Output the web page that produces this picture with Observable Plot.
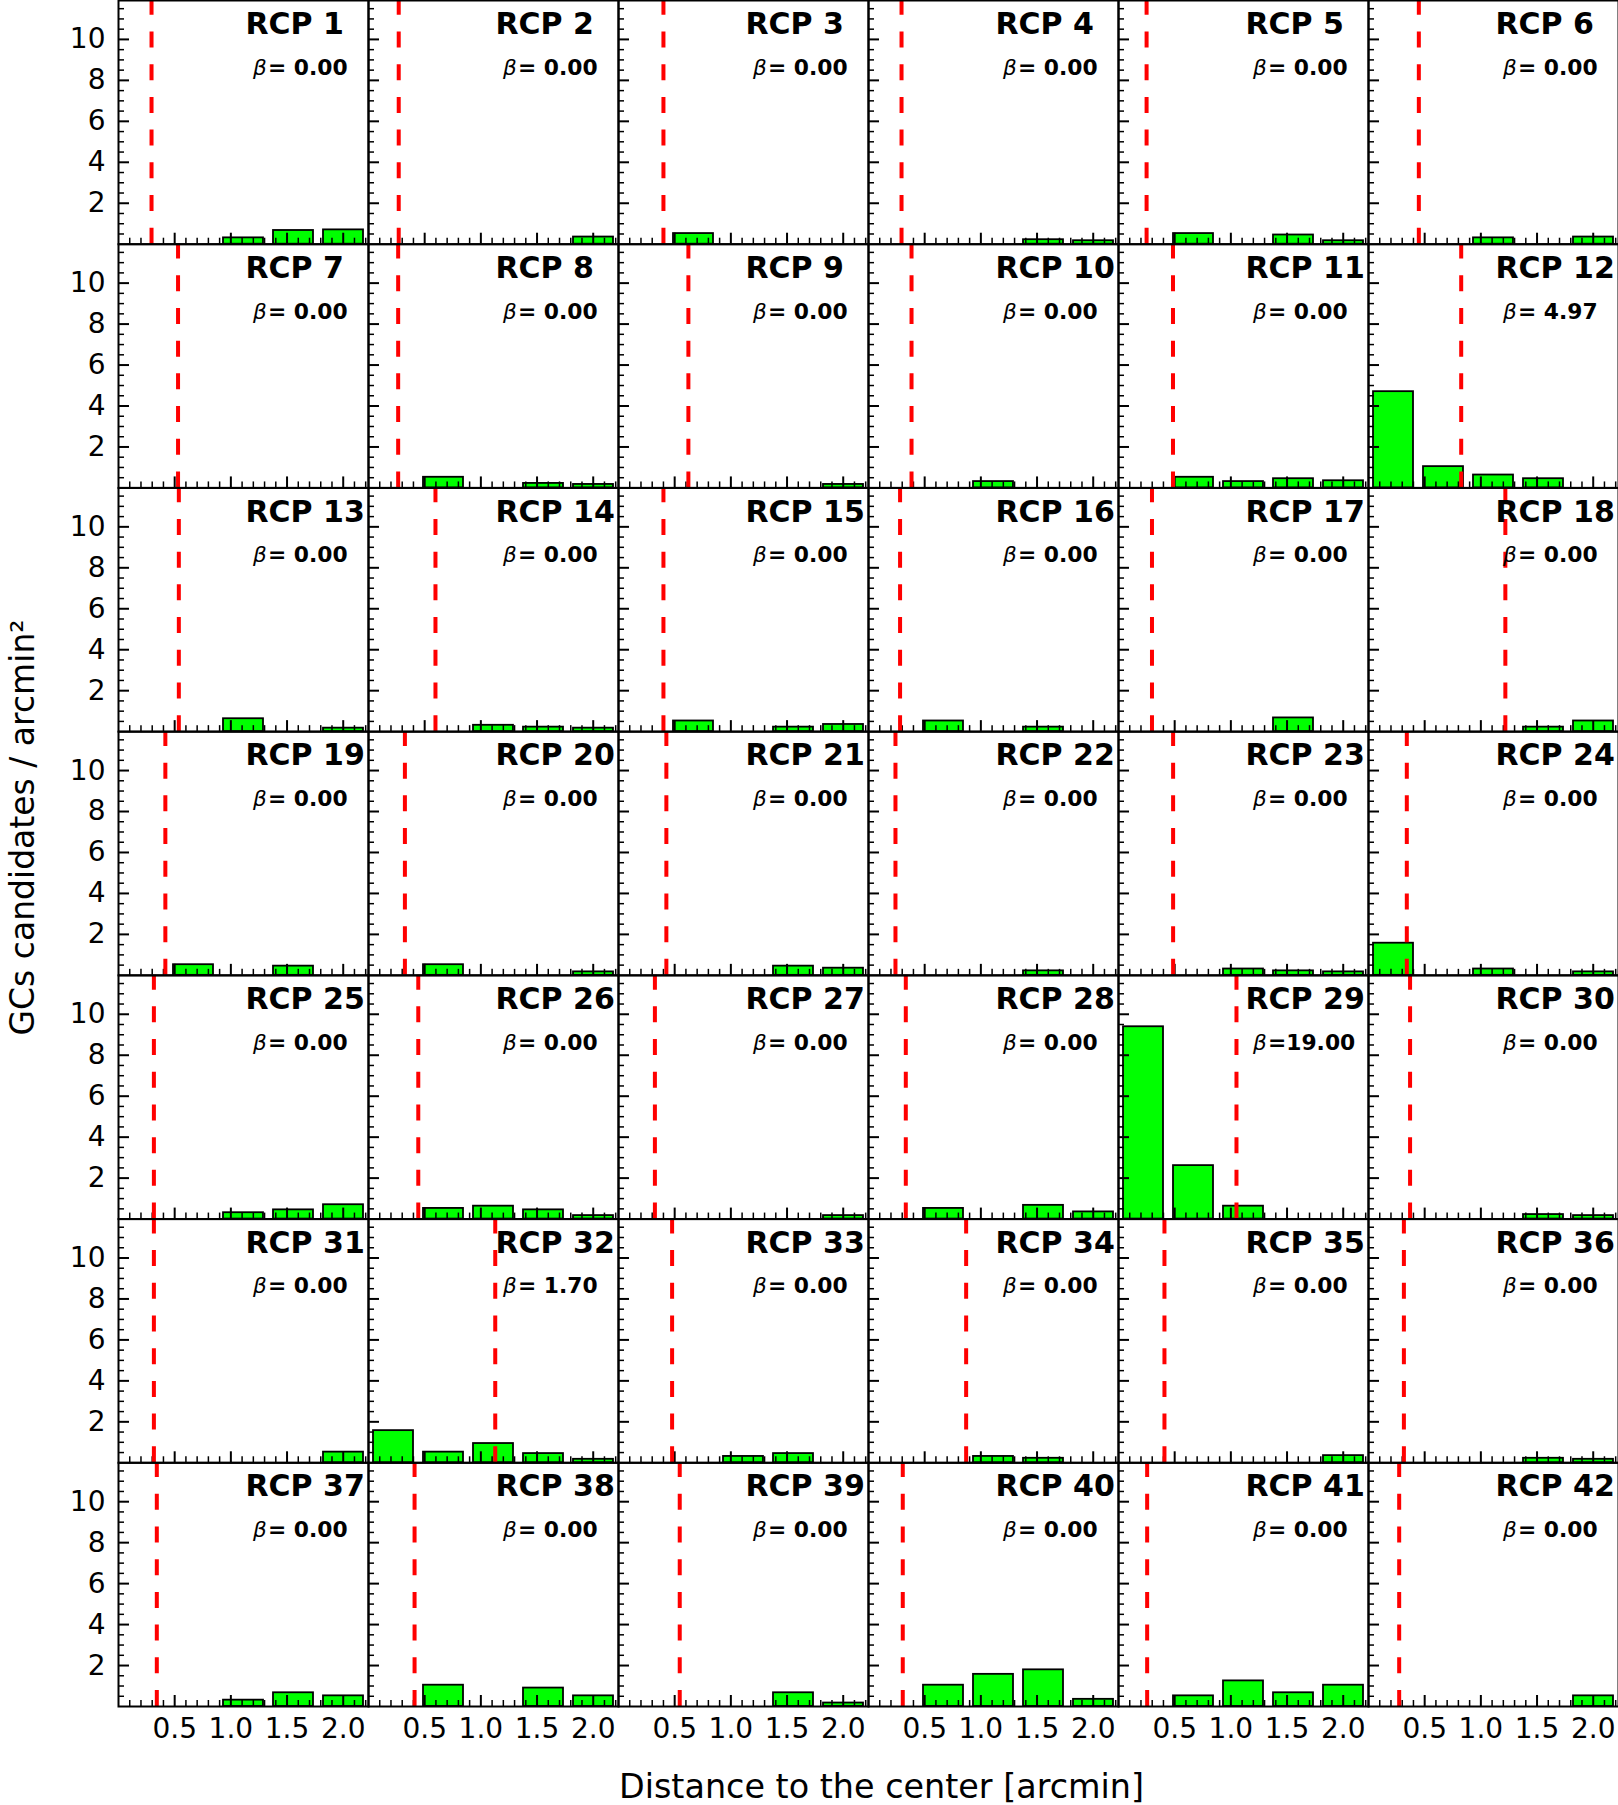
<!DOCTYPE html>
<html>
<head>
<meta charset="utf-8">
<script src="https://cdn.jsdelivr.net/npm/d3@7"></script>
<script src="https://cdn.jsdelivr.net/npm/@observablehq/plot@0.6"></script>
<style>
  html, body { margin: 0; padding: 0; background: #ffffff; }
  #chart svg { display: block; }
</style>
</head>
<body>
<div id="chart"></div>
<script>
// ---------------- data ----------------
const panelLabels = [
  "RCP 1","RCP 2","RCP 3","RCP 4","RCP 5","RCP 6",
  "RCP 7","RCP 8","RCP 9","RCP 10","RCP 11","RCP 12",
  "RCP 13","RCP 14","RCP 15","RCP 16","RCP 17","RCP 18",
  "RCP 19","RCP 20","RCP 21","RCP 22","RCP 23","RCP 24",
  "RCP 25","RCP 26","RCP 27","RCP 28","RCP 29","RCP 30",
  "RCP 31","RCP 32","RCP 33","RCP 34","RCP 35","RCP 36",
  "RCP 37","RCP 38","RCP 39","RCP 40","RCP 41","RCP 42"
];

// radial bin edges [arcmin]
const binEdges = [0, 0.445, 0.89, 1.335, 1.78, 2.225];

// GC candidate surface density per bin (GCs / arcmin^2), one row per panel
const density = [
  [0, 0, 0.31, 0.67, 0.70],
  [0, 0, 0, 0, 0.35],
  [0, 0.52, 0, 0, 0],
  [0, 0, 0, 0.22, 0.17],
  [0, 0.52, 0, 0.45, 0.17],
  [0, 0, 0.31, 0, 0.35],
  [0, 0, 0, 0, 0],
  [0, 0.52, 0, 0.22, 0.17],
  [0, 0, 0, 0, 0.17],
  [0, 0, 0.31, 0, 0],
  [0, 0.52, 0.31, 0.45, 0.35],
  [4.70, 1.04, 0.63, 0.45, 0],
  [0, 0, 0.63, 0, 0.17],
  [0, 0, 0.31, 0.22, 0.17],
  [0, 0.52, 0, 0.22, 0.35],
  [0, 0.52, 0, 0.22, 0],
  [0, 0, 0, 0.67, 0],
  [0, 0, 0, 0.22, 0.52],
  [0, 0.52, 0, 0.45, 0],
  [0, 0.52, 0, 0, 0.17],
  [0, 0, 0, 0.45, 0.35],
  [0, 0, 0, 0.22, 0],
  [0, 0, 0.31, 0.22, 0.17],
  [1.57, 0, 0.31, 0, 0.17],
  [0, 0, 0.31, 0.45, 0.70],
  [0, 0.52, 0.63, 0.45, 0.17],
  [0, 0, 0, 0, 0.17],
  [0, 0.52, 0, 0.67, 0.35],
  [9.39, 2.61, 0.63, 0, 0],
  [0, 0, 0, 0.22, 0.17],
  [0, 0, 0, 0, 0.52],
  [1.57, 0.52, 0.94, 0.45, 0.17],
  [0, 0, 0.31, 0.45, 0],
  [0, 0, 0.31, 0.22, 0],
  [0, 0, 0, 0, 0.35],
  [0, 0, 0, 0.22, 0.17],
  [0, 0, 0.31, 0.67, 0.52],
  [0, 1.04, 0, 0.90, 0.52],
  [0, 0, 0, 0.67, 0.17],
  [0, 1.04, 1.57, 1.79, 0.35],
  [0, 0.52, 1.25, 0.67, 1.04],
  [0, 0, 0, 0, 0.52]
];

// red dashed line position per panel [arcmin]
const cutRadius = [
  0.294, 0.269, 0.400, 0.294, 0.250, 0.448,
  0.530, 0.264, 0.622, 0.383, 0.485, 0.825,
  0.537, 0.596, 0.400, 0.281, 0.298, 1.218,
  0.417, 0.324, 0.426, 0.240, 0.486, 0.341,
  0.315, 0.443, 0.324, 0.332, 1.050, 0.370,
  0.315, 1.128, 0.477, 0.869, 0.409, 0.315,
  0.341, 0.410, 0.545, 0.305, 0.255, 0.273
];

// beta value per panel
const betaValues = [
  0, 0, 0, 0, 0, 0,
  0, 0, 0, 0, 0, 4.97,
  0, 0, 0, 0, 0, 0,
  0, 0, 0, 0, 0, 0,
  0, 0, 0, 0, 19.00, 0,
  0, 1.70, 0, 0, 0, 0,
  0, 0, 0, 0, 0, 0
];

const xTickValues = [0.5, 1.0, 1.5, 2.0];
const yTickValues = [2, 4, 6, 8, 10];
const xMinorTicks = [0.1,0.2,0.3,0.4,0.6,0.7,0.8,0.9,1.1,1.2,1.3,1.4,1.6,1.7,1.8,1.9,2.1,2.2];
const yMinorTicks = [0.5,1,1.5,2.5,3,3.5,4.5,5,5.5,6.5,7,7.5,8.5,9,9.5,10.5,11,11.5];

const xTitle = "Distance to the center [arcmin]";
const yTitle = "GCs candidates / arcmin²";

// ---------------- tables built from the arrays ----------------
const NCOL = 6;
const panels = panelLabels.map((name, i) => ({
  name, col: i % NCOL, row: Math.floor(i / NCOL), r: cutRadius[i], beta: betaValues[i]
}));
const bars = [];
density.forEach((vals, i) => vals.forEach((v, b) => {
  if (v > 0) bars.push({col: i % NCOL, row: Math.floor(i / NCOL), x1: binEdges[b], x2: binEdges[b + 1], v});
}));

// ---------------- layout ----------------
const WIDTH = 1618, HEIGHT = 1805;
const mL = 118, mR = 0, mT = 0, mB = 99;
const FW = (WIDTH - mL - mR) / 6;
const FH = (HEIGHT - mT - mB) / 7;
const FONT = "DejaVu Sans";

const chart = Plot.plot({
  width: WIDTH, height: HEIGHT,
  marginLeft: mL, marginRight: mR, marginTop: mT, marginBottom: mB,
  style: {fontFamily: FONT, fontSize: "28px", color: "black", background: "white"},
  fx: {domain: d3.range(6), padding: 0, axis: null, round: false},
  fy: {domain: d3.range(7), padding: 0, axis: null, round: false},
  x: {domain: [0, 2.225]},
  y: {domain: [0, 11.9]},
  marks: [
    Plot.rect(bars, {
      fx: "col", fy: "row", x1: "x1", x2: "x2", y1: 0, y2: "v",
      insetLeft: 5, insetRight: 5,
      fill: "#00ff00", stroke: "black", strokeWidth: 1.8
    }),
    // inward ticks (bottom and left of each panel)
    Plot.ruleX(xMinorTicks, {insetTop: FH - 6, stroke: "black", strokeWidth: 1.5}),
    Plot.ruleX(xTickValues, {insetTop: FH - 11, stroke: "black", strokeWidth: 2}),
    Plot.ruleY(yMinorTicks, {insetRight: FW - 6, stroke: "black", strokeWidth: 1.5}),
    Plot.ruleY(yTickValues, {insetRight: FW - 11, stroke: "black", strokeWidth: 2}),
    // red dashed line
    Plot.ruleX(panels, {
      fx: "col", fy: "row", x: "r", y1: 0, y2: 11.9,
      stroke: "#ff0000", strokeWidth: 4, strokeDasharray: "16,16.7"
    }),
    Plot.frame({stroke: "black", strokeWidth: 2}),
    // tick labels
    Plot.axisX(xTickValues, {
      anchor: "bottom", tickSize: 0, tickPadding: 12, fontSize: 28,
      tickFormat: d3.format(".1f"), label: null
    }),
    Plot.axisY(yTickValues, {
      anchor: "left", tickSize: 0, tickPadding: 13, fontSize: 28, label: null
    }),
    // panel annotations
    Plot.text(panels, {
      fx: "col", fy: "row", text: "name", frameAnchor: "top-left",
      dx: 127, dy: 33.7, lineAnchor: "bottom", textAnchor: "start",
      fontSize: 30, fontWeight: "bold", fill: "black"
    }),
    Plot.text(panels, {
      fx: "col", fy: "row", text: () => "β", frameAnchor: "top-left",
      dx: 134.5, dy: 74.3, lineAnchor: "bottom", textAnchor: "start",
      fontSize: 21.5, fontStyle: "italic", fill: "black"
    }),
    Plot.text(panels, {
      fx: "col", fy: "row", text: d => "=" + d.beta.toFixed(2).padStart(5, " "),
      frameAnchor: "top-left",
      dx: 149.5, dy: 74.3, lineAnchor: "bottom", textAnchor: "start",
      fontSize: 21.8, fontWeight: "bold", fill: "black"
    }),
    // axis titles
    Plot.text([xTitle], {
      facet: "super", frameAnchor: "bottom", dx: 13, dy: 81, lineAnchor: "middle",
      textAnchor: "middle", fontSize: 33.4, fill: "black"
    }),
    Plot.text([yTitle], {
      facet: "super", frameAnchor: "left", dx: -95, dy: -26, rotate: -90,
      lineAnchor: "middle", textAnchor: "middle", fontSize: 33, fill: "black"
    })
  ]
});

document.getElementById("chart").appendChild(chart);
</script>
</body>
</html>
